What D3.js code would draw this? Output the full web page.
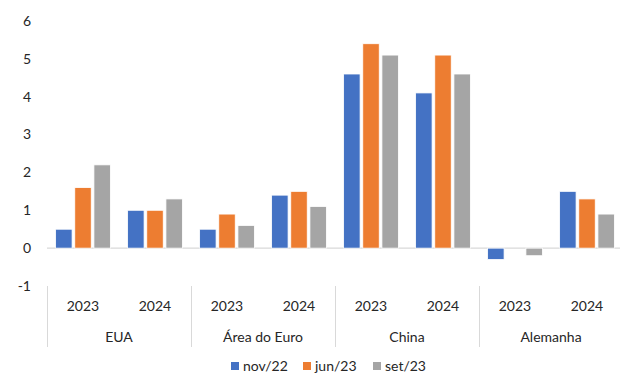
<!DOCTYPE html>
<html>
<head>
<meta charset="utf-8">
<script src="https://d3js.org/d3.v7.min.js"></script>
<style>
  body { margin: 0; background: #fff; }
  text { font-family: Lato, "Liberation Sans", sans-serif; fill: #262626; }
</style>
</head>
<body>
<script>
    // data
    let countries = ["EUA", "Área do Euro", "China", "Alemanha"];
    let years = ["2023", "2024"];
    let seriesNames = ["nov/22", "jun/23", "set/23"];
    let colors = ["#4472C4", "#ED7D31", "#A5A5A5"];
    // values per series, ordered country x year
    let nov22 = [0.5, 1.0, 0.5, 1.4, 4.6, 4.1, -0.3, 1.5];
    let jun23 = [1.6, 1.0, 0.9, 1.5, 5.4, 5.1, 0, 1.3];
    let set23 = [2.2, 1.3, 0.6, 1.1, 5.1, 4.6, -0.2, 0.9];
    let yTicks = [-1, 0, 1, 2, 3, 4, 5, 6];

    let W = 620, H = 376;
    let svg = d3.select("body").append("svg").attr("width", W).attr("height", H);

    let left = 47, right = 623;
    let y = d3.scaleLinear().domain([-1, 6]).range([286, 21]);

    let x0 = d3.scaleBand().domain(countries).range([left, right]);
    let x1 = d3.scaleBand().domain(years).range([0, x0.bandwidth()]);
    let x2 = d3.scaleBand().domain(seriesNames).range([0, x1.bandwidth()])
        .paddingInner(0.14).paddingOuter(0.45);

    // y labels
    svg.append("g").selectAll("text").data(yTicks).enter()
        .append("text")
        .attr("x", 31).attr("y", d => y(d))
        .attr("dy", "0.35em").attr("text-anchor", "end")
        .style("font-size", "14px")
        .text(d => d);

    // zero line
    svg.append("line")
        .attr("x1", left).attr("x2", right)
        .attr("y1", y(0)).attr("y2", y(0))
        .attr("stroke", "#d9d9d9").attr("stroke-width", 1.2);

    // bars
    let rows = [];
    countries.forEach((c, ci) => years.forEach((yr, yi) => {
        let k = ci * 2 + yi;
        [nov22, jun23, set23].forEach((arr, si) => {
            rows.push({c: c, yr: yr, s: seriesNames[si], v: arr[k], color: colors[si]});
        });
    }));

    svg.append("g").selectAll("rect").data(rows.filter(d => d.v !== 0)).enter()
        .append("rect")
        .attr("x", d => x0(d.c) + x1(d.yr) + x2(d.s))
        .attr("width", x2.bandwidth())
        .attr("y", d => y(Math.max(0, d.v)))
        .attr("height", d => Math.abs(y(d.v) - y(0)))
        .attr("fill", d => d.color)
        .attr("stroke", "#fff").attr("stroke-width", 0.8);

    // category axis separators
    let sepX = countries.map(c => x0(c)).concat([right]);
    svg.append("g").selectAll("line").data(sepX).enter()
        .append("line")
        .attr("x1", d => Math.round(d) + 0.5).attr("x2", d => Math.round(d) + 0.5)
        .attr("y1", 286).attr("y2", 347)
        .attr("stroke", "#d9d9d9").attr("stroke-width", 1);

    // year labels
    let yrLabels = [];
    countries.forEach(c => years.forEach(yr => yrLabels.push({c: c, yr: yr})));
    svg.append("g").selectAll("text").data(yrLabels).enter()
        .append("text")
        .attr("x", d => x0(d.c) + x1(d.yr) + x1.bandwidth() / 2)
        .attr("y", 306).attr("dy", "0.35em")
        .attr("text-anchor", "middle")
        .style("font-size", "14px")
        .text(d => d.yr);

    // country labels
    svg.append("g").selectAll("text").data(countries).enter()
        .append("text")
        .attr("x", d => x0(d) + x0.bandwidth() / 2)
        .attr("y", 337).attr("dy", "0.35em")
        .attr("text-anchor", "middle")
        .style("font-size", "14px")
        .text(d => d);

    // legend
    let legX = [231, 303, 373];
    let leg = svg.append("g").selectAll("g").data(seriesNames).enter()
        .append("g")
        .attr("transform", (d, i) => "translate(" + legX[i] + ",0)");
    leg.append("rect")
        .attr("x", 0).attr("y", 362).attr("width", 8).attr("height", 8)
        .attr("fill", (d, i) => colors[i]);
    leg.append("text")
        .attr("x", 12).attr("y", 366).attr("dy", "0.35em")
        .style("font-size", "14px")
        .text(d => d);
</script>
</body>
</html>
